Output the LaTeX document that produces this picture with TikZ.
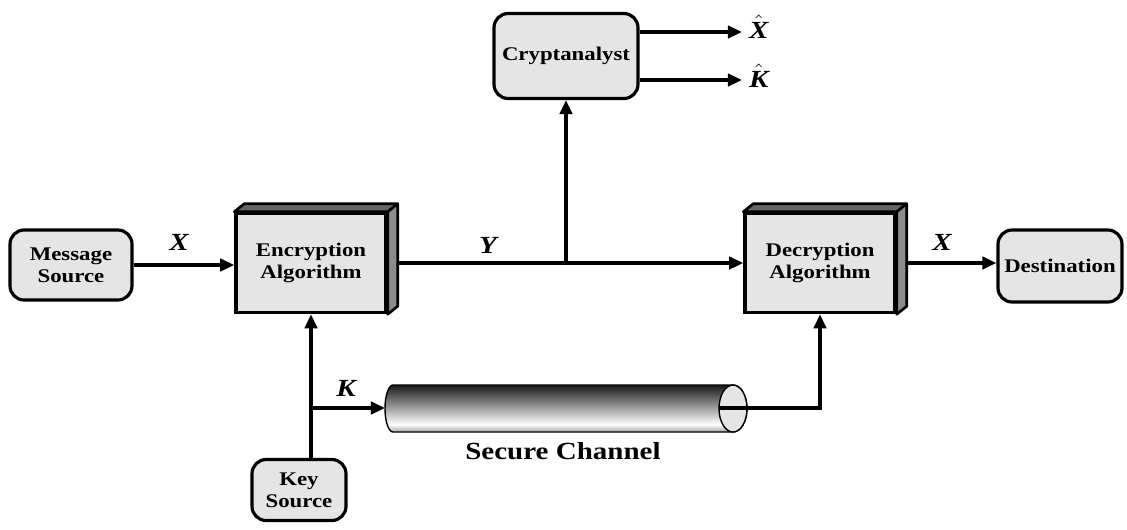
\documentclass[tikz,border=0pt]{standalone}
\usepackage{fontspec}
\setmainfont{Liberation Serif}[FakeStretch=1.18]
\usetikzlibrary{arrows.meta}
\usetikzlibrary{calc}

\pgfdeclareverticalshading{pipeshade}{100bp}{color(0bp)=(black!35); color(25bp)=(black!35);
  color(33bp)=(white); color(52bp)=(black!40); color(75bp)=(black!90); color(100bp)=(black!90)}

\begin{document}
\begin{tikzpicture}[x=0.02cm,y=-0.02cm,
    roundbox/.style={draw,line width=1.8pt,rounded corners=8pt,fill=gray!20,align=center,
      font=\fontsize{11}{12.5}\selectfont\bfseries},
    solidbox/.style={draw,line width=2pt,fill=gray!20,align=center,
      minimum width=3cm,minimum height=1.98cm,font=\fontsize{11}{12.5}\selectfont\bfseries},
    flow/.style={line width=2.3pt,-{Triangle[length=8pt,width=7pt]}},
    varlabel/.style={font=\fontsize{14}{14}\selectfont\bfseries\itshape,inner sep=1pt}]
  \useasboundingbox (0,0) rectangle (1127,529);

  % boxes
  \node[roundbox,minimum width=2.44cm,minimum height=1.4cm] (msg) at (71,265) {Message\\Source};
  \node[solidbox] (enc) at (311,263) {Encryption\\Algorithm};
  \node[solidbox] (dec) at (820,263) {Decryption\\Algorithm};
  \node[roundbox,minimum width=2.48cm,minimum height=1.44cm] (dest) at (1060,266) {Destination};
  \node[roundbox,minimum width=2.88cm,minimum height=1.7cm] (cry) at (566,56) {Cryptanalyst};
  \node[roundbox,minimum width=1.88cm,minimum height=1.22cm] (key) at (299,490) {Key\\Source};

  % secure channel
  \shade[shading=pipeshade,draw,line width=0.8pt] (393,385) -- (733,385)
    arc[start angle=-90,end angle=90,x radius=14,y radius=23.5] -- (393,432)
    arc[start angle=90,end angle=270,x radius=8,y radius=23.5] -- cycle;
  \draw[fill=gray!20,line width=0.8pt] (733,408.5) ellipse[x radius=14,y radius=23.5];
  \coordinate (pipein) at (385,408);
  \coordinate (pipeout) at (719,408);
  \node[font=\fontsize{14}{14}\selectfont\bfseries] (chan) at (563,451) {Secure Channel};

  % connectors
  \draw[flow] (msg) -- (msg -| enc.west);
  \draw[flow] (enc.east) -- (dec.west);
  \draw[flow] (cry.south |- enc.east) -- (cry.south);
  \draw[flow] (dec.east) -- (dec -| dest.west);
  \draw[flow] (enc.south |- key.north) -- (enc.south);
  \draw[flow] (enc.south |- pipein) -- (pipein);
  \draw[flow] (pipeout) -| (dec.south);

  \coordinate (xout) at (742,32);
  \coordinate (kout) at (742,80);
  \draw[flow] (xout -| cry.east) -- (xout);
  \draw[flow] (kout -| cry.east) -- (kout);

  % 3d faces
  \foreach \b in {enc,dec} {
    \draw[fill=black!60,line width=1.5pt,line join=round] (\b.north west) -- ([shift={(10,-8)}]\b.north west)
      -- ([shift={(10,-8)}]\b.north east) -- (\b.north east) -- cycle;
    \draw[fill=black!45,line width=1.5pt,line join=round] (\b.north east) -- ([shift={(10,-8)}]\b.north east)
      -- ([shift={(10,-8)}]\b.south east) -- (\b.south east) -- cycle;
  }

  % labels
  \node[varlabel] (lx) at (179,242) {X};
  \node[varlabel] (ly) at (488,245) {Y};
  \node[varlabel] (lx2) at (942,242) {X};
  \node[varlabel] (lk) at (346,388) {K};
  \node[varlabel,anchor=base west] (xhat) at (747,38) {$\hat{\mbox{\bfseries\itshape X}}$};
  \node[varlabel,anchor=base west] (khat) at (747,87) {$\hat{\mbox{\bfseries\itshape K}}$};
\end{tikzpicture}
\end{document}
